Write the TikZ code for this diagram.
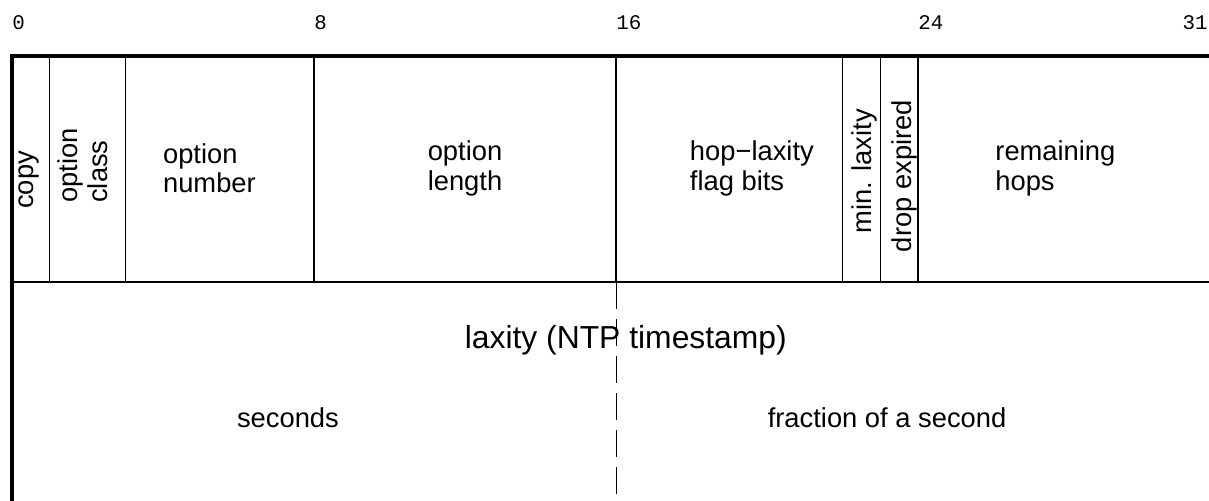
\documentclass[tikz,border=0pt]{standalone}
\usepackage{fontspec}
\setmainfont{Liberation Sans}
\setmonofont{Liberation Mono}

\begin{document}
\begin{tikzpicture}
    \tikzstyle{bitnum}=[anchor=base west,inner sep=0pt,font=\ttfamily\fontsize{15.7}{16}\selectfont]
    \tikzstyle{field}=[inner sep=0pt,align=left,font=\fontsize{20.6}{22.4}\selectfont]
    \tikzstyle{vfield}=[field,rotate=90]
    \tikzstyle{big}=[inner sep=0pt,anchor=base,font=\fontsize{24}{26}\selectfont]
    \tikzstyle{border}=[line width=2.3pt]
    \tikzstyle{byte}=[line width=1.5pt]
    \tikzstyle{bit}=[line width=0.6pt]
    \useasboundingbox (-0.318,-11.788) rectangle (31.709,1.483);
    \coordinate (tl) at (0,0);
    \coordinate (tr) at (31.709,0);
    \coordinate (bl) at (0,-11.788);
    \coordinate (ml) at (0,-6);
    \coordinate (mr) at (31.709,-6);
    \coordinate (dtop) at (16,-6);
    \coordinate (dbot) at (16,-11.788);
    \foreach \b in {0,8,16,24,31} \node[bitnum] (n\b) at (\b,0.69) {\b};
    \foreach \b in {1,3,22,23} \draw[bit] (\b,0) -- (\b,-6);
    \foreach \b in {8,16,24} \draw[byte] (\b,0) -- (\b,-6);
    \draw[byte] (ml) -- (mr);
    \draw[bit,dash pattern=on 20.3pt off 7.5pt] (dtop) -- (dbot);
    \draw[border] (tr) -- (tl) -- (bl);
    \node[vfield] (copy)   at (0.45,-3.28)  {copy};
    \node[vfield] (class)  at (1.88,-2.90)  {option\\class};
    \node[field]  (number) at (5.23,-2.97)  {option\\number};
    \node[field]  (length) at (12.0,-2.97)  {option\\length};
    \node[field]  (flags)  at (19.6,-2.97)  {hop−laxity\\flag bits};
    \node[vfield] (minlax) at (22.57,-3.05) {min. laxity};
    \node[vfield] (drop)   at (23.63,-3.18) {drop expired};
    \node[field]  (hops)   at (27.64,-2.97) {remaining\\hops};
    \node[big]    (laxity) at (16.26,-7.76) {laxity (NTP timestamp)};
    \node[field,anchor=base] (sec)  at (7.31,-9.83)  {seconds};
    \node[field,anchor=base] (frac) at (23.18,-9.83) {fraction of a second};
\end{tikzpicture}
\end{document}
